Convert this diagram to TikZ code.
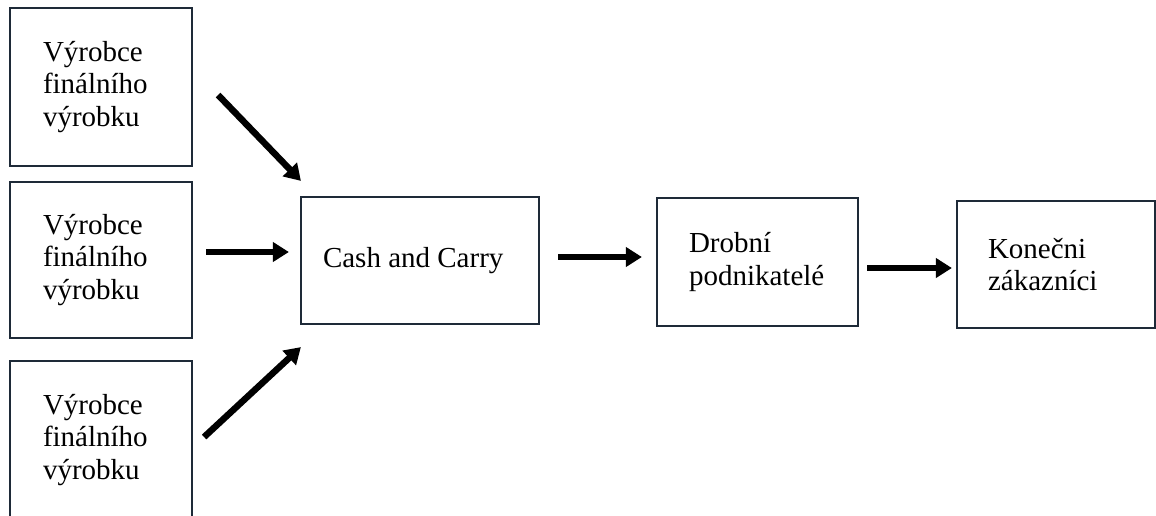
\documentclass[tikz,border=0pt]{standalone}
\usepackage{fontspec}
\setmainfont{Liberation Serif}
\usetikzlibrary{arrows.meta}
\definecolor{boxline}{RGB}{30,42,56}
\begin{document}
\begin{tikzpicture}[x=1pt,y=-1pt,
  every node/.style={font=\fontsize{29}{32.5}\selectfont},
  stage/.style={draw=boxline, line width=2.2pt, inner xsep=0pt, inner ysep=0pt,
                align=flush left, fill=white},
  flow/.style={line width=6.5pt, -{Triangle[length=16pt,width=19pt]}}]
\useasboundingbox (0,0) rectangle (1156,515);

% producers
\node[stage, minimum width=182pt, minimum height=158pt, text width=116pt] (p1) at (101,87) {Výrobce\\finálního\\výrobku};
\node[stage, minimum width=182pt, minimum height=156pt, text width=116pt] (p2) at (101,260) {Výrobce\\finálního\\výrobku};
\node[stage, minimum width=182pt, minimum height=158pt, text width=116pt] (p3) at (101,440) {Výrobce\\finálního\\výrobku};

% distribution chain
\node[stage, minimum width=238pt, minimum height=127pt, text width=194pt] (cc) at (420,260.5) {Cash and Carry};
\node[stage, minimum width=201pt, minimum height=128pt, text width=137pt] (dp) at (757.5,262) {Drobní\\podnikatelé};
\node[stage, minimum width=198pt, minimum height=127pt, text width=136pt] (kz) at (1056,264.5) {Konečni\\zákazníci};

% arrows
\draw[flow] ([shift={(25,8)}]p1.east) -- ([shift={(1,-15)}]cc.north west);
\draw[flow] ([shift={(13,-8)}]p2.east) -- ([shift={(-11,-8.5)}]cc.west);
\draw[flow] ([shift={(11,-3)}]p3.east) -- ([shift={(1,22)}]cc.south west);
\draw[flow] ([shift={(18,-3.5)}]cc.east) -- ([shift={(-14,-5)}]dp.west);
\draw[flow] ([shift={(8,6)}]dp.east) -- ([shift={(-4,3.5)}]kz.west);
\end{tikzpicture}
\end{document}
